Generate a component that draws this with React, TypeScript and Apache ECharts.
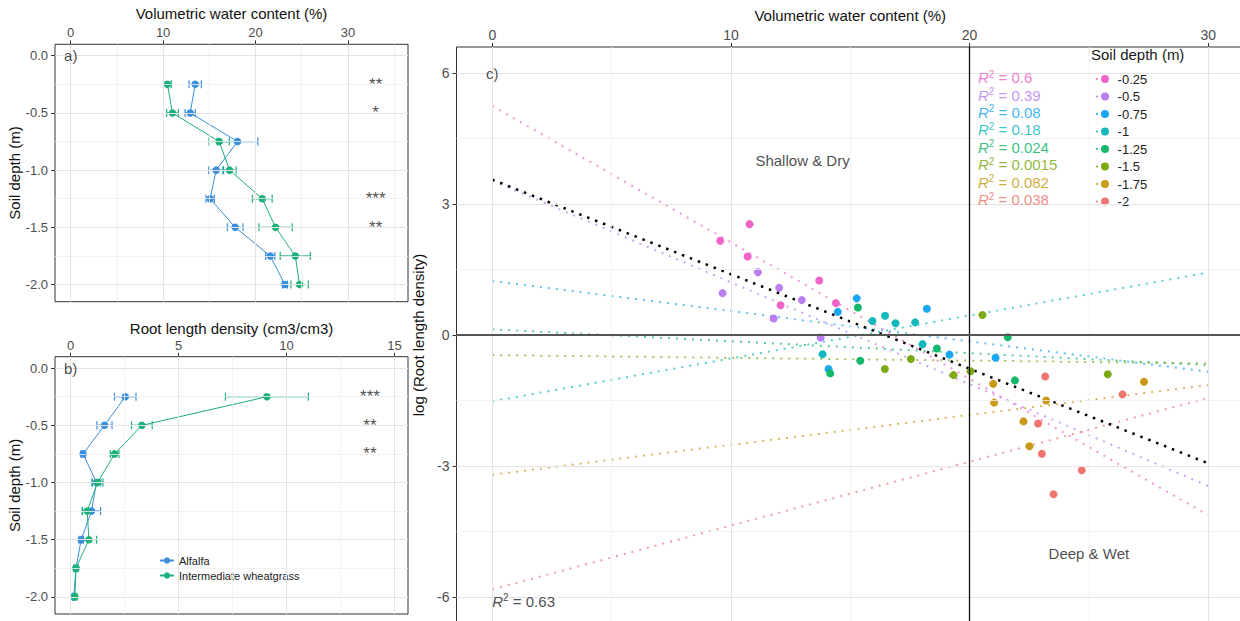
import React, { useEffect, useRef } from "react";
import * as echarts from "echarts";

// ---------------- data ----------------
const depths = [-0.25, -0.5, -0.75, -1, -1.25, -1.5, -1.75, -2];
const depthNames = ["-0.25", "-0.5", "-0.75", "-1", "-1.25", "-1.5", "-1.75", "-2"];
const depthColors = ["#F066C8", "#BB7EF0", "#1AA6F0", "#12B8BC", "#14B86A", "#7CAA14", "#C99A16", "#EE7670"];

// panel a: volumetric water content (%)
const vwcAlfalfa = [13.47, 12.93, 18.05, 15.74, 15.09, 17.8, 21.6, 23.18];
const vwcAlfalfaSE = [0.67, 0.55, 2.2, 0.8, 0.45, 0.85, 0.5, 0.27];
const vwcIWG = [10.47, 11.01, 16.07, 17.19, 20.73, 22.17, 24.3, 24.77];
const vwcIWGSE = [0.42, 0.63, 1.1, 0.72, 1.07, 1.8, 1.63, 0.94];
const sigVWC = ["**", "*", "", "", "***", "**", "", ""];

// panel b: root length density
const rldAlfalfa = [2.53, 1.57, 0.58, 1.2, 0.97, 0.49, 0.25, 0.15];
const rldAlfalfaSE = [0.5, 0.35, 0.1, 0.2, 0.42, 0.1, 0.08, 0.07];
const rldIWG = [9.09, 3.3, 2.04, 1.25, 0.77, 0.85, 0.25, 0.2];
const rldIWGSE = [1.92, 0.48, 0.2, 0.25, 0.23, 0.36, 0.1, 0.1];
const sigRLD = ["***", "**", "**", "", "", "", "", ""];

// panel c: per-depth observations (VWC %, log RLD)
const vwcByDepth = [
  [9.55, 10.78, 10.7, 13.7, 12.08, 14.4],
  [11.13, 12.02, 9.65, 12.97, 11.79, 13.76],
  [15.27, 14.48, 14.09, 18.21, 19.16, 21.09],
  [15.93, 16.46, 16.9, 17.72, 18.03, 13.84],
  [15.32, 14.16, 15.42, 18.63, 21.6, 21.9],
  [20.54, 16.45, 17.54, 19.33, 20.04, 25.79],
  [20.99, 21.03, 22.26, 22.51, 23.21, 27.31],
  [23.17, 22.87, 23.03, 24.7, 23.52, 26.41],
];
const logRldByDepth = [
  [2.16, 2.54, 1.8, 1.25, 0.68, 0.73],
  [1.44, 1.08, 0.96, 0.8, 0.38, -0.06],
  [0.84, 0.53, -0.78, 0.6, -0.45, -0.52],
  [0.32, 0.44, 0.27, 0.29, -0.21, -0.44],
  [0.63, -0.88, -0.59, -0.31, -0.05, -1.04],
  [0.46, -0.78, -0.55, -0.92, -0.83, -0.9],
  [-1.12, -1.55, -1.98, -2.55, -1.5, -1.07],
  [-0.95, -2.03, -2.72, -3.1, -3.65, -1.36],
];
// fitted lines (value at VWC = 0 and VWC = 30)
const fitRange = [0, 30];
const fitStart = [5.25, 3.54, 1.24, -1.52, 0.13, -0.46, -3.2, -5.83];
const fitEnd = [-4.13, -3.46, -0.84, 1.43, -0.69, -0.65, -1.15, -1.44];
const r2Values = ["0.6", "0.39", "0.08", "0.18", "0.024", "0.0015", "0.082", "0.038"];
const overallFit = [3.56, -2.94];
const overallR2 = "0.63";

const FONT = '"Liberation Sans", Arial, Helvetica, sans-serif';
const ALF = "#3A8EDB";
const IWG = "#1DB078";
const TICK = "#4D4D4D";
const MAJOR = "#E4E4E4";
const MINOR = "#F0F0F0";

function gridLines(idx: number, xMajor: number[], xMinor: number[], yMajor: number[], yMinor: number[]) {
  const mk = (key: string, v: number, major: boolean) => ({
    [key]: v,
    lineStyle: { color: major ? MAJOR : MINOR, width: major ? 1 : 0.8, type: "solid" },
  });
  return {
    type: "line",
    name: "grid" + idx,
    xAxisIndex: idx,
    yAxisIndex: idx,
    data: [],
    silent: true,
    z: 0,
    markLine: {
      silent: true,
      symbol: ["none", "none"],
      label: { show: false },
      emphasis: { disabled: true },
      data: [
        ...xMinor.map((v) => mk("xAxis", v, false)),
        ...yMinor.map((v) => mk("yAxis", v, false)),
        ...xMajor.map((v) => mk("xAxis", v, true)),
        ...yMajor.map((v) => mk("yAxis", v, true)),
      ],
    },
  };
}

function errorBars(name: string, idx: number, mean: number[], se: number[], color: string) {
  return {
    type: "custom",
    name,
    xAxisIndex: idx,
    yAxisIndex: idx,
    silent: true,
    z: 3,
    encode: { x: [0, 2, 3], y: 1 },
    data: depths.map((d, i) => [mean[i], d, mean[i] - se[i], mean[i] + se[i]]),
    renderItem: (_p: any, api: any) => {
      const y = api.value(1);
      const a = api.coord([api.value(2), y]);
      const b = api.coord([api.value(3), y]);
      const h = 4;
      const style = { stroke: color, lineWidth: 1.2, fill: "none" };
      return {
        type: "group",
        children: [
          { type: "line", shape: { x1: a[0], y1: a[1], x2: b[0], y2: b[1] }, style },
          { type: "line", shape: { x1: a[0], y1: a[1] - h, x2: a[0], y2: a[1] + h }, style },
          { type: "line", shape: { x1: b[0], y1: b[1] - h, x2: b[0], y2: b[1] + h }, style },
        ],
      };
    },
  };
}

function profileLine(name: string, idx: number, vals: number[], color: string) {
  return {
    type: "line",
    name,
    xAxisIndex: idx,
    yAxisIndex: idx,
    z: 4,
    data: depths.map((d, i) => [vals[i], d]),
    symbol: "circle",
    symbolSize: 7.5,
    showSymbol: true,
    lineStyle: { color, width: 1 },
    itemStyle: { color },
  };
}

function textSeries(idx: number, items: any[]) {
  return {
    type: "scatter",
    name: "text" + idx,
    xAxisIndex: idx,
    yAxisIndex: idx,
    silent: true,
    z: 6,
    symbolSize: 1,
    itemStyle: { color: "transparent" },
    label: {
      show: true,
      position: "inside",
      fontFamily: FONT,
      fontSize: 15,
      color: "#1A1A1A",
      rich: {
        i: { fontStyle: "italic", fontSize: 15, lineHeight: 17, fontFamily: FONT },
        s: { fontSize: 10, lineHeight: 10, verticalAlign: "top", fontFamily: FONT },
        n: { fontSize: 15, lineHeight: 17, fontFamily: FONT },
      },
    },
    data: items,
  };
}

function valueAxis(idx: number, opts: any) {
  return {
    type: "value",
    gridIndex: idx,
    min: opts.min,
    max: opts.max,
    position: opts.position,
    name: opts.name,
    nameLocation: "middle",
    nameGap: opts.nameGap,
    nameTextStyle: { fontSize: 15, color: "#111", fontFamily: FONT },
    axisLine: { show: false, onZero: false },
    axisTick: { show: true, customValues: opts.ticks, length: 4, lineStyle: { color: "#333", width: 1 } },
    axisLabel: {
      show: true,
      customValues: opts.ticks,
      fontSize: opts.fontSize,
      color: TICK,
      margin: opts.margin,
      fontFamily: FONT,
      formatter: opts.formatter,
    },
    splitLine: { show: false },
    minorSplitLine: { show: false },
  };
}

export default function App() {
  const ref = useRef<HTMLDivElement>(null);

  useEffect(() => {
    document.body.style.margin = "0";
    if (!ref.current) return;
    const chart = echarts.init(ref.current, null, { renderer: "svg" });

    const depthTicks = [0, -0.5, -1, -1.5, -2];
    const depthMinor = [-0.25, -0.75, -1.25, -1.75];
    const fmt1 = (v: number) => (Math.abs(v) < 1e-9 ? "0.0" : v.toFixed(1));

    const grid = (left: number, top: number, width: number, height: number) => ({
      left,
      top,
      width,
      height,
      show: true,
      borderColor: "#333",
      borderWidth: 1,
      backgroundColor: "transparent",
      containLabel: false,
      outerBoundsMode: "none",
    });

    const legendIcon =
      "path://M0,4a1,1 0 1,0 2,0a1,1 0 1,0 -2,0M5,4a4,4 0 1,0 8,0a4,4 0 1,0 -8,0";

    const starLabel = (txt: string) => ({ formatter: txt, fontSize: 17, color: "#222" });

    const series: any[] = [];

    // ----- panel a -----
    series.push(gridLines(0, [0, 10, 20, 30], [5, 15, 25, 35], depthTicks, depthMinor));
    series.push(errorBars("errA-alf", 0, vwcAlfalfa, vwcAlfalfaSE, ALF));
    series.push(errorBars("errA-iwg", 0, vwcIWG, vwcIWGSE, IWG));
    series.push(profileLine("Alfalfa", 0, vwcAlfalfa, ALF));
    series.push(profileLine("Intermediate wheatgrass", 0, vwcIWG, IWG));
    series.push(
      textSeries(0, [
        { value: [0, 0], label: { formatter: "a)" } },
        ...depths
          .map((d, i) => ({ value: [33, d], label: starLabel(sigVWC[i]) }))
          .filter((_, i) => sigVWC[i] !== ""),
      ])
    );

    // ----- panel b -----
    series.push(gridLines(1, [0, 5, 10, 15], [2.5, 7.5, 12.5], depthTicks, depthMinor));
    series.push(errorBars("errB-alf", 1, rldAlfalfa, rldAlfalfaSE, ALF));
    series.push(errorBars("errB-iwg", 1, rldIWG, rldIWGSE, IWG));
    series.push(profileLine("Alfalfa", 1, rldAlfalfa, ALF));
    series.push(profileLine("Intermediate wheatgrass", 1, rldIWG, IWG));
    series.push(
      textSeries(1, [
        { value: [0, 0], label: { formatter: "b)" } },
        ...depths
          .map((d, i) => ({ value: [13.86, d], label: starLabel(sigRLD[i]) }))
          .filter((_, i) => sigRLD[i] !== ""),
      ])
    );

    // ----- panel c -----
    series.push(gridLines(2, [0, 10, 20, 30], [5, 15, 25], [6, 3, 0, -3, -6], [4.5, 1.5, -1.5, -4.5]));
    series.push({
      type: "line",
      name: "refs",
      xAxisIndex: 2,
      yAxisIndex: 2,
      data: [],
      silent: true,
      z: 1,
      markLine: {
        silent: true,
        symbol: ["none", "none"],
        label: { show: false },
        data: [
          { xAxis: 20, lineStyle: { color: "#111", width: 1.3, type: "solid" } },
          { yAxis: 0, lineStyle: { color: "#555", width: 2, type: "solid" } },
        ],
      },
    });
    depthNames.forEach((n, i) => {
      series.push({
        type: "line",
        name: "fit " + n,
        xAxisIndex: 2,
        yAxisIndex: 2,
        silent: true,
        z: 2,
        symbol: "none",
        data: [
          [fitRange[0], fitStart[i]],
          [fitRange[1], fitEnd[i]],
        ],
        lineStyle: { color: depthColors[i], width: 2, type: [2, 6], opacity: 0.7 },
      });
    });
    series.push({
      type: "line",
      name: "fit overall",
      xAxisIndex: 2,
      yAxisIndex: 2,
      silent: true,
      z: 2,
      symbol: "none",
      data: [
        [fitRange[0], overallFit[0]],
        [fitRange[1], overallFit[1]],
      ],
      lineStyle: { color: "#000", width: 2.5, type: [2.5, 6] },
    });
    depthNames.forEach((n, i) => {
      series.push({
        type: "scatter",
        name: n,
        xAxisIndex: 2,
        yAxisIndex: 2,
        z: 3,
        symbol: "circle",
        symbolSize: 8,
        itemStyle: { color: depthColors[i], opacity: 1 },
        data: vwcByDepth[i].map((x, k) => [x, logRldByDepth[i][k]]),
      });
    });
    series.push(
      textSeries(2, [
        { value: [0, 6], label: { formatter: "c)" } },
        { value: [13, 4], label: { formatter: "Shallow & Dry" } },
        { value: [25, -5], label: { formatter: "Deep & Wet" } },
        { value: [0, -6.1], label: { formatter: "{i|R}{s|2}{n| = " + overallR2 + "}", align: "left" } },
        ...r2Values.map((r, i) => ({
          value: [20.35, 5.9 - 0.4 * i],
          label: {
            formatter: "{i|R}{s|2}{n| = " + r + "}",
            align: "left",
            color: depthColors[i],
            opacity: 0.85,
          },
        })),
      ])
    );

    const option: any = {
      animation: false,
      backgroundColor: "#fff",
      textStyle: { fontFamily: FONT },
      title: [
        {
          text: "Soil depth (m)",
          left: 1091,
          top: 47,
          padding: 0,
          textStyle: { fontSize: 15, fontWeight: "normal", color: "#1A1A1A", fontFamily: FONT },
        },
      ],
      legend: [
        {
          data: ["Alfalfa", "Intermediate wheatgrass"],
          orient: "vertical",
          left: 159,
          top: 555,
          padding: 0,
          itemWidth: 14,
          itemHeight: 8,
          itemGap: 4,
          selectedMode: false,
          textStyle: { fontSize: 11, lineHeight: 11, color: "#222", fontFamily: FONT },
        },
        {
          data: depthNames.map((n) => ({ name: n, icon: legendIcon })),
          orient: "vertical",
          left: 1096,
          top: 72.5,
          padding: 0,
          itemWidth: 13,
          itemHeight: 8,
          itemGap: 4.5,
          selectedMode: false,
          formatter: (n: string) => " " + n,
          textStyle: { fontSize: 13, lineHeight: 13, color: "#222", fontFamily: FONT },
        },
      ],
      grid: [grid(55, 44.3, 353, 257.4), grid(55, 356.7, 353, 257.3), grid(456.5, 47, 787.5, 576)],
      xAxis: [
        valueAxis(0, {
          min: -1.7, max: 36.5, position: "top", name: "Volumetric water content (%)", nameGap: 23,
          ticks: [0, 10, 20, 30], fontSize: 13, margin: 5,
        }),
        valueAxis(1, {
          min: -0.72, max: 15.62, position: "top", name: "Root length density (cm3/cm3)", nameGap: 21,
          ticks: [0, 5, 10, 15], fontSize: 13, margin: 5,
        }),
        valueAxis(2, {
          min: -1.5, max: 31.5, position: "top", name: "Volumetric water content (%)", nameGap: 23,
          ticks: [0, 10, 20, 30], fontSize: 14, margin: 5,
        }),
      ],
      yAxis: [
        valueAxis(0, {
          min: -2.15, max: 0.1, position: "left", name: "Soil depth (m)", nameGap: 33,
          ticks: depthTicks, fontSize: 13, margin: 7, formatter: fmt1,
        }),
        valueAxis(1, {
          min: -2.15, max: 0.1, position: "left", name: "Soil depth (m)", nameGap: 33,
          ticks: depthTicks, fontSize: 13, margin: 7, formatter: fmt1,
        }),
        valueAxis(2, {
          min: -6.6, max: 6.6, position: "left", name: "log (Root length density)", nameGap: 22,
          ticks: [6, 3, 0, -3, -6], fontSize: 14, margin: 7,
        }),
      ],
      series,
    };

    chart.setOption(option);
    return () => chart.dispose();
  }, []);

  return <div ref={ref} style={{ width: 1240, height: 621 }} />;
}
